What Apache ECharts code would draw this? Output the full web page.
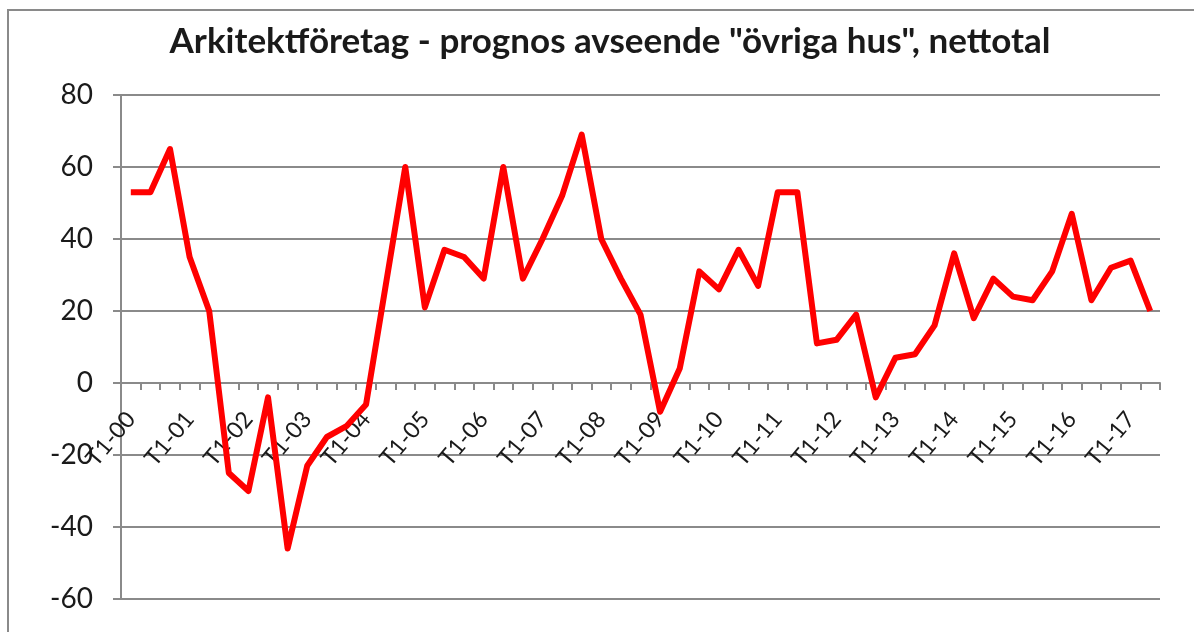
<!DOCTYPE html>
<html>
<head>
<meta charset="utf-8">
<script src="https://cdn.jsdelivr.net/npm/echarts@6/dist/echarts.min.js"></script>
<style>
  body { margin: 0; background: #fff; }
  #wrap { position: relative; width: 1194px; height: 632px; overflow: hidden; }
  #chart { width: 1194px; height: 632px; }
  .frame {
    position: absolute; left: 7px; top: 9px; width: 1300px; height: 800px;
    border: 2px solid #8a8a8a; pointer-events: none;
  }
</style>
</head>
<body>
<div id="wrap">
  <div id="chart"></div>
  <div class="frame"></div>
</div>
<script>
// tertial categories, T1-00 .. T2-17
var categories = [
  'T1-00', 'T2-00', 'T3-00', 'T1-01', 'T2-01', 'T3-01', 'T1-02', 'T2-02', 'T3-02',
  'T1-03', 'T2-03', 'T3-03', 'T1-04', 'T2-04', 'T3-04', 'T1-05', 'T2-05', 'T3-05',
  'T1-06', 'T2-06', 'T3-06', 'T1-07', 'T2-07', 'T3-07', 'T1-08', 'T2-08', 'T3-08',
  'T1-09', 'T2-09', 'T3-09', 'T1-10', 'T2-10', 'T3-10', 'T1-11', 'T2-11', 'T3-11',
  'T1-12', 'T2-12', 'T3-12', 'T1-13', 'T2-13', 'T3-13', 'T1-14', 'T2-14', 'T3-14',
  'T1-15', 'T2-15', 'T3-15', 'T1-16', 'T2-16', 'T3-16', 'T1-17', 'T2-17'
];

// nettotal per tertial
var nettotal = [
  53, 53, 65, 35, 20, -25, -30, -4, -46,
  -23, -15, -12, -6, 27, 60, 21, 37, 35,
  29, 60, 29, 40, 52, 69, 40, 29, 19,
  -8, 4, 31, 26, 37, 27, 53, 53, 11,
  12, 19, -4, 7, 8, 16, 36, 18, 29,
  24, 23, 31, 47, 23, 32, 34, 20
];

var yTicks = { min: -60, max: 80, step: 20 };

var gray = '#8a8a8a';

// plot box
var plotTop = 95, plotBottom = 33, plotH = 632 - plotTop - plotBottom;
// second grid ends at the zero line so its x axis (ticks + labels) sits there
var zeroFromTop = plotTop + plotH * yTicks.max / (yTicks.max - yTicks.min);

var chart = echarts.init(document.getElementById('chart'), null, { renderer: 'canvas' });

chart.setOption({
  animation: false,
  title: {
    text: 'Arkitektföretag - prognos avseende "övriga hus", nettotal',
    left: 605,
    top: 19,
    textAlign: 'center',
    textStyle: {
      fontFamily: 'Lato',
      fontWeight: 'bold',
      fontSize: 35,
      color: '#1a1a1a'
    }
  },
  grid: [
    { left: 121, right: 34, top: plotTop, bottom: plotBottom, outerBoundsMode: 'none' },
    { left: 121, right: 34, top: plotTop, bottom: 632 - zeroFromTop, outerBoundsMode: 'none' }
  ],
  xAxis: [
    {
      type: 'category',
      gridIndex: 0,
      data: categories,
      boundaryGap: true,
      show: false
    },
    {
      type: 'category',
      gridIndex: 1,
      data: categories,
      boundaryGap: true,
      axisLine: { onZero: false, lineStyle: { color: gray, width: 2 } },
      axisTick: { show: true, interval: 0, length: 7, lineStyle: { color: gray, width: 2 } },
      axisLabel: {
        interval: 2,
        rotate: 50,
        margin: 32,
        fontFamily: 'Lato',
        fontSize: 23,
        color: '#1a1a1a'
      },
      splitLine: { show: false }
    }
  ],
  yAxis: [
    {
      type: 'value',
      gridIndex: 0,
      min: yTicks.min,
      max: yTicks.max,
      interval: yTicks.step,
      axisLine: { show: true, lineStyle: { color: gray, width: 2 } },
      axisTick: { show: true, length: 8, lineStyle: { color: gray, width: 2 } },
      axisLabel: {
        margin: 28,
        fontFamily: 'Lato',
        fontSize: 28,
        color: '#1a1a1a'
      },
      splitLine: { show: true, lineStyle: { color: gray, width: 2 } }
    },
    { type: 'value', gridIndex: 1, show: false, splitLine: { show: false } }
  ],
  series: [{
    name: 'nettotal',
    type: 'line',
    xAxisIndex: 0,
    yAxisIndex: 0,
    data: nettotal,
    symbol: 'none',
    smooth: false,
    z: 5,
    lineStyle: { color: '#ff0000', width: 6, join: 'round', cap: 'butt' }
  }]
});
</script>
</body>
</html>
